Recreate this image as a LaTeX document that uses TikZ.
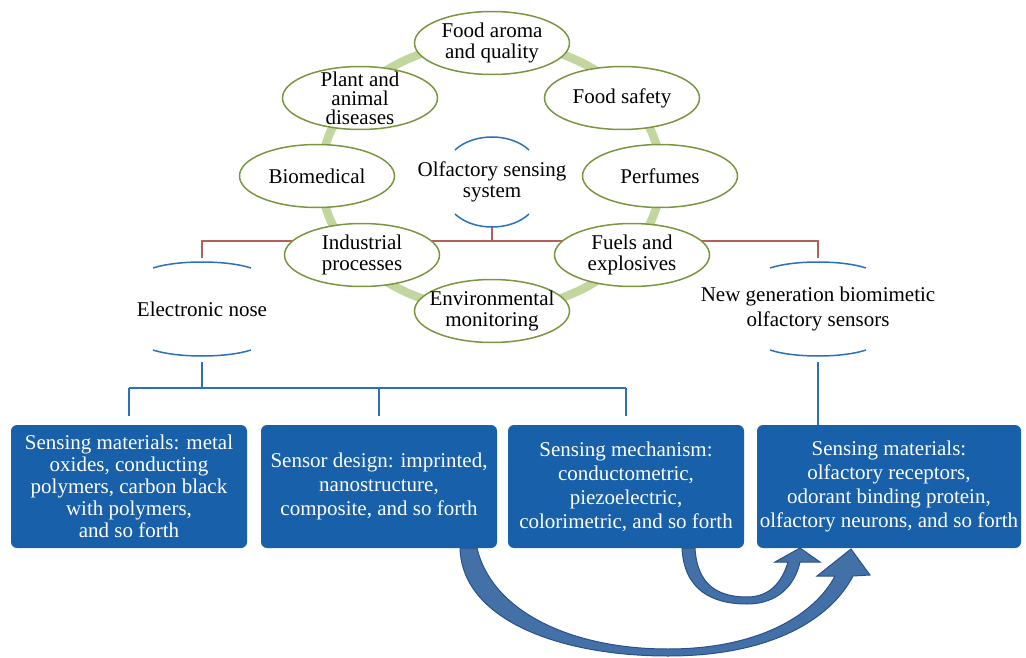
\documentclass[tikz,border=0pt]{standalone}
\usepackage{fontspec}
\setmainfont{Liberation Serif}
\usetikzlibrary{calc,shapes.geometric}

\definecolor{ringgreen}{RGB}{196,214,160}
\definecolor{appgreen}{RGB}{122,150,62}
\definecolor{linkbrown}{RGB}{180,96,90}
\definecolor{linkblue}{RGB}{42,112,186}
\definecolor{boxblue}{RGB}{24,96,170}
\definecolor{arrowblue}{RGB}{68,112,168}
\definecolor{arrowedge}{RGB}{42,80,138}

\newcommand{\appfont}{\fontsize{21}{21}\selectfont}
\newcommand{\boxfont}{\fontsize{21}{24}\selectfont}
\newcommand{\bracketpair}[4]{%
  \draw[arcline] ($(#1)+(-#2,-#3+#4)$) .. controls ($(#1)+(-#2/2,-#3-#4/3)$) and ($(#1)+(#2/2,-#3-#4/3)$) .. ($(#1)+(#2,-#3+#4)$);
  \draw[arcline] ($(#1)+(-#2,#3-#4)$) .. controls ($(#1)+(-#2/2,#3+#4/3)$) and ($(#1)+(#2/2,#3+#4/3)$) .. ($(#1)+(#2,#3-#4)$);
}

\begin{document}
\begin{tikzpicture}[x=1pt, y=-1pt,
    app/.style={ellipse, draw=appgreen, line width=1.5, fill=white, minimum width=155, minimum height=63, inner sep=0,
      label={[align=center, font=\appfont]center:#1}},
    bracket/.style={minimum height=#1, align=center, inner sep=0, font=\appfont},
    arcline/.style={draw=linkblue, line width=1.5},
    brownline/.style={draw=linkbrown, line width=1.5},
    blueline/.style={draw=linkblue, line width=1.5},
    field/.style={rectangle, rounded corners=6, fill=boxblue, text=white, minimum width=236, minimum height=123,
      inner sep=2, align=center, font=\boxfont},
    arrowbody/.style={fill=arrowblue, draw=arrowedge, line width=1}]
\useasboundingbox (0,0) rectangle (1026,658);

\draw[ringgreen, line width=8.5] (491,176) ellipse [x radius=170, y radius=134];

\node[bracket=90] (oss) at (492,182) {Olfactory sensing\\system};
\node[bracket=94] (enose) at (202,309) {Electronic nose};
\node[bracket=94] (ngs) at (818,309) {New generation biomimetic\\[4pt]olfactory sensors};
\coordinate (hub) at (492,241);
\draw[brownline] (oss.south) -- (hub);
\draw[brownline, shorten >=4] (hub) -| (enose.north);
\draw[brownline, shorten >=4] (hub) -| (ngs.north);

\node[app={Food aroma\\and quality}] (aroma) at (492,43) {};
\node[app={Food safety}] (safety) at (622,98) {};
\node[app={Perfumes}] (perfume) at (660,176) {};
\node[app={Fuels and\\explosives}] (fuel) at (632,255) {};
\node[app={Environmental\\monitoring}] (envir) at (492,311) {};
\node[app={Industrial\\processes}] (indus) at (362,255) {};
\node[app={Biomedical}] (biomed) at (317,176) {};
\node[app={Plant and\\[-2pt]animal\\[-2pt]diseases}] (plant) at (360,98) {};

\bracketpair{oss}{37}{45}{13}
\bracketpair{enose}{49}{47}{6}
\bracketpair{ngs}{48}{47}{6}

\filldraw[arrowbody] (460,548) .. controls (462,620) and (560,656) .. (668,656) .. controls (770,656) and (830,620) .. (853,576)
  -- (870,575) -- (851,549) -- (817,576) -- (835,576) .. controls (815,614) and (760,649) .. (668,649)
  .. controls (572,649) and (492,612) .. (477,548) -- cycle;
\filldraw[arrowbody] (682,548) .. controls (684,590) and (712,604) .. (747,604) .. controls (778,604) and (795,585) .. (800,562)
  -- (820,562) -- (800,548) -- (775,562) -- (788,562) .. controls (782,582) and (770,597) .. (747,597)
  .. controls (718,597) and (697,585) .. (695,548) -- cycle;

\node[field, font=\fontsize{21}{22}\selectfont] (box1) at (129,486.5) {Sensing materials: metal\\oxides, conducting\\polymers, carbon black\\with polymers,\\and so forth};
\node[field] (box2) at (379,486.5) {Sensor design: imprinted,\\nanostructure,\\composite, and so forth};
\node[field] (box3) at (626,486.5) {Sensing mechanism:\\conductometric,\\piezoelectric,\\colorimetric, and so forth};
\node[field, minimum width=264] (box4) at (889,486.5) {Sensing materials:\\olfactory receptors,\\odorant binding protein,\\olfactory neurons, and so forth};

\coordinate (ebus) at (0,388);
\draw[blueline, shorten <=6] (enose.south) -- (enose.south |- ebus);
\draw[blueline] (box1.north |- ebus) -- (box3.north |- ebus);
\foreach \b in {box1,box2,box3}
  \draw[blueline, shorten >=9] (\b.north |- ebus) -- (\b.north);
\draw[blueline, shorten <=6] (ngs.south) -- (ngs.south |- box4.north);
\end{tikzpicture}
\end{document}
